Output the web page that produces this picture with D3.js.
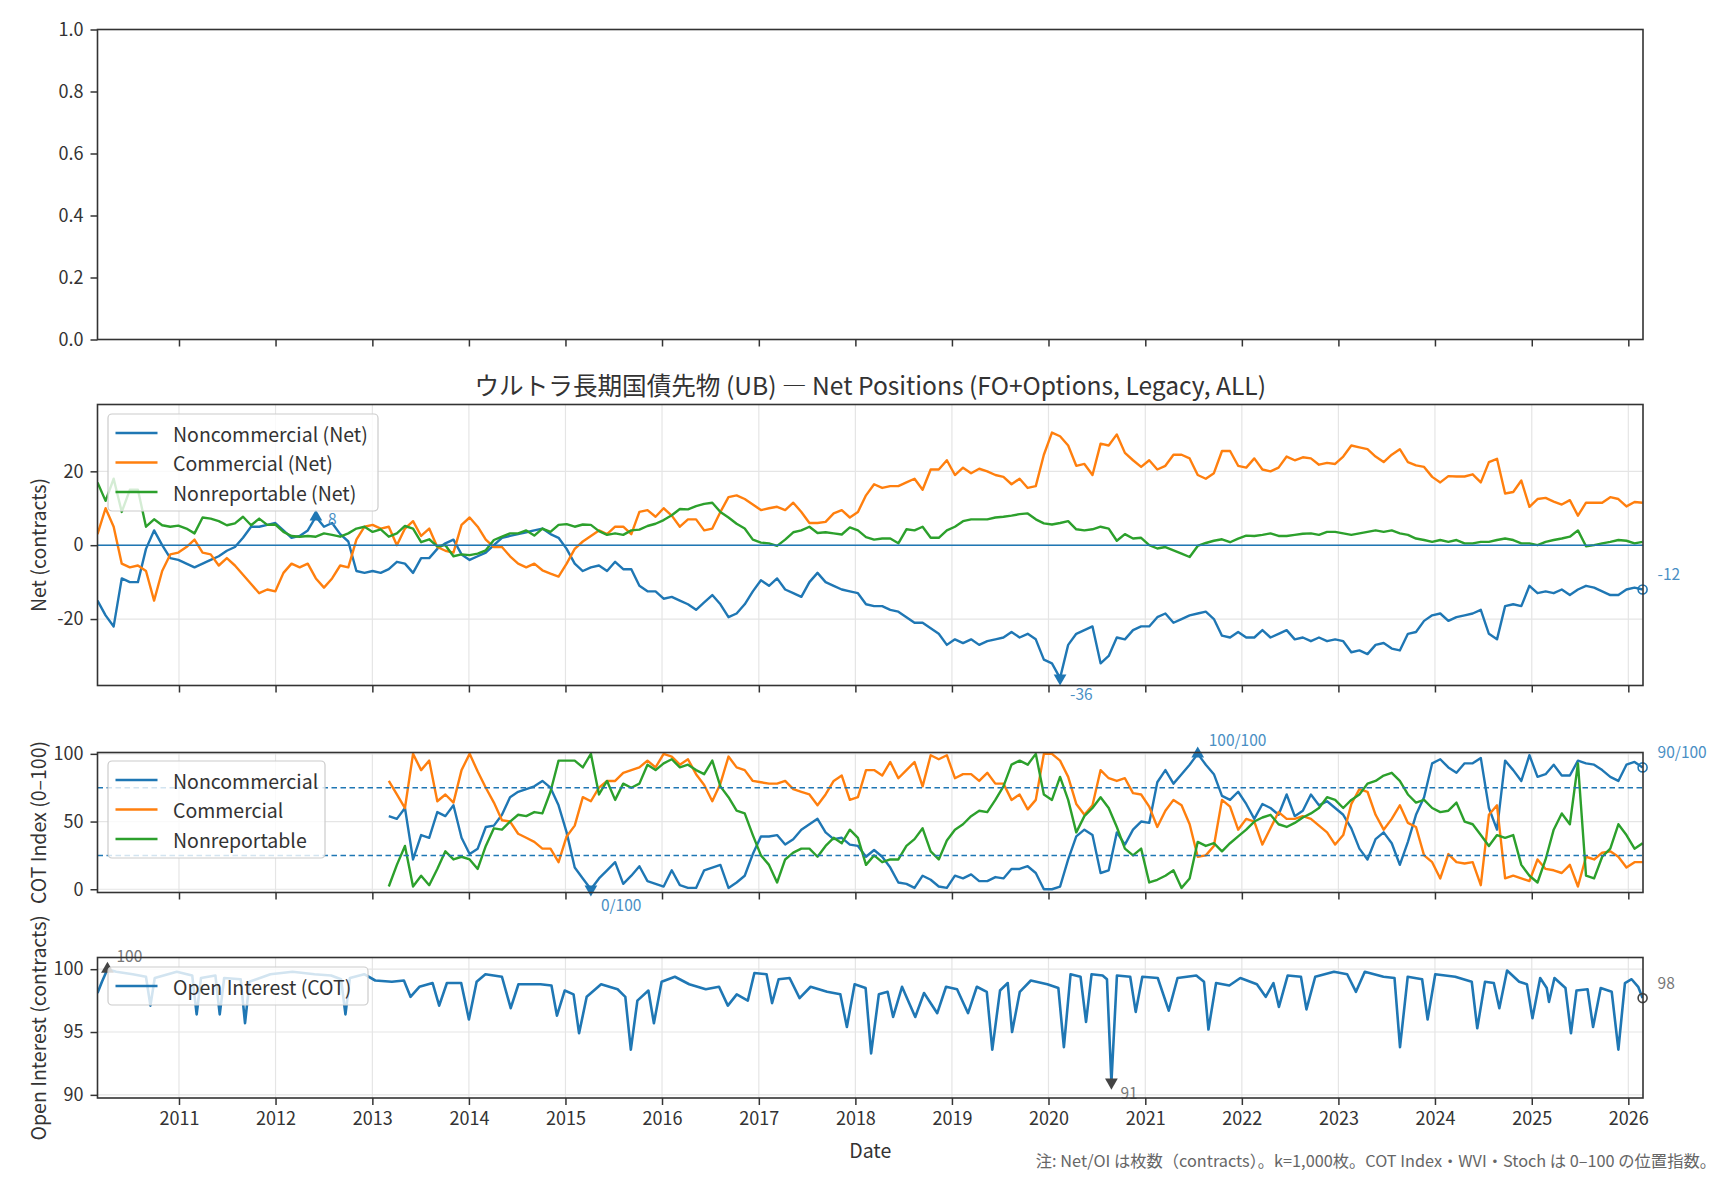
<!DOCTYPE html>
<html lang="ja">
<head>
<meta charset="UTF-8">
<title>UB Net Positions</title>
<script src="https://cdn.jsdelivr.net/npm/d3@7"></script>
<style>
  body { margin: 0; background: #fff; }
  svg text { font-family: "Noto Sans CJK JP", "Noto Sans", sans-serif; fill: #333; }
</style>
</head>
<body>
<svg id="chart" width="1728" height="1180"></svg>
<script>
// monthly grid, Feb 2010 .. Feb 2026 (decimal years)
const netStart = 2010.156, netEnd = 2026.148;
const cotOffset = 36; // COT index starts ~Mar 2013

const netNoncomm = [
  -15, -19, -22, -9, -10, -10, -1, 4, 0, -3.5,
  -4, -5, -6, -5, -4, -3, -1.5, -0.5, 2, 5,
  5, 5.5, 6, 4, 2, 2.5, 4, 7.7, 5, 6,
  3, 1, -7, -7.5, -7, -7.5, -6.5, -4.5, -5, -7.5,
  -3.5, -3.5, -1, 0.5, 1.5, -2.5, -4, -3, -2, 0,
  2, 2.5, 3, 3.5, 4, 4.5, 3, 2, -1, -5,
  -7, -6, -5.5, -7, -4.5, -6.5, -6.5, -11, -12.5, -12.5,
  -14.5, -14, -15, -16, -17.5, -15.5, -13.5, -16, -19.5, -18.5,
  -16, -12.5, -9.5, -11, -9, -12, -13, -14, -10, -7.5,
  -10, -11, -12, -12.5, -13, -16, -16.5, -16.5, -17.5, -18,
  -19.5, -21, -21, -22.5, -24, -27, -25.5, -26.5, -25.5, -27,
  -26, -25.5, -25, -23.5, -25, -24, -25.5, -31, -32, -36,
  -27, -24, -23, -22, -32, -30, -25, -25.5, -23, -22,
  -22, -19.5, -18.5, -21, -20, -19, -18.5, -18, -20, -24.5,
  -25, -23.5, -25, -25, -23, -25, -24, -23, -25.5, -25,
  -26, -25, -26, -25.5, -26, -29, -28.5, -29.5, -27, -26.5,
  -28, -28.5, -24, -23.5, -20.5, -19, -18.5, -20.5, -19.5, -19,
  -18.5, -17.5, -24, -25.5, -16.5, -16, -16.5, -11, -13, -12.5,
  -13, -12, -13.5, -12, -11, -11.5, -12.5, -13.5, -13.5, -12,
  -11.5, -12
];
const netComm = [
  3, 10, 5, -5, -6, -5.5, -7, -15, -7, -2.5,
  -2, -0.5, 1.5, -2, -2.5, -5.5, -3.5, -5.5, -8, -10.5,
  -13, -12, -12.5, -7.5, -5, -6, -5, -9, -11.5, -9,
  -5.5, -6, 1.5, 5, 5.5, 4.5, 5, 0, 4.5, 6.5,
  2.5, 4.5, -0.5, -1.5, -2, 5.5, 7.5, 5, 1.5, -0.5,
  -0.5, -3, -5, -6, -5, -6.8, -7.7, -8.5, -5, -1,
  1, 2.5, 4, 3, 5, 5, 3, 9, 9.5, 7.7,
  10, 8, 5, 7, 7, 4, 4.5, 9, 13, 13.5,
  12.5, 11, 9.5, 10, 10.4, 9.5, 11.5, 9, 6, 6,
  6.3, 8.6, 9.5, 7.5, 9, 13.5, 16.5, 15.5, 16, 16,
  17, 18, 15, 20.5, 20.5, 23, 19, 21, 19.5, 20.7,
  20, 19, 18.5, 16.5, 18, 15.5, 16, 24.5, 30.5, 29.5,
  27, 21.5, 22, 19, 27.5, 27, 30, 25, 23, 21.2,
  23, 20.5, 21.5, 24.5, 24.5, 23.5, 19, 18, 19.5, 25.5,
  25.5, 21.5, 21, 23.5, 20.5, 20, 21, 24, 23, 23.8,
  23.5, 21.8, 22.3, 22, 24, 27, 26.5, 26, 24, 22.5,
  24.5, 26, 22.5, 21.6, 21.2, 18.5, 17, 18.7, 18.6, 18.6,
  19.2, 17, 22.5, 23.4, 14, 14.4, 17.5, 10.4, 12.5, 12.8,
  11.8, 11, 12.2, 8, 11.5, 11.5, 11.5, 13, 12.5, 10.5,
  11.7, 11.5
];
const netNonrep = [
  17, 12, 18, 9, 15, 15, 5, 7, 5.4, 5,
  5.3, 4.5, 3.2, 7.5, 7.2, 6.5, 5.4, 5.9, 7.7, 5.4,
  7.2, 5.5, 5.6, 3.6, 2.5, 2.3, 2.5, 2.3, 3.2, 2.8,
  2.3, 3.2, 4.5, 5, 3.6, 4.3, 2.3, 3.2, 5.2, 4.5,
  0.8, 1.6, -0.3, 0, -3, -2.5, -2.7, -2.3, -1.4, 1.4,
  2.3, 3.2, 3.2, 4, 2.6, 4.5, 3.6, 5.5, 5.7, 5,
  5.6, 5.5, 3.8, 2.8, 3.2, 2.8, 4, 4.2, 5.2, 5.8,
  6.8, 8.1, 9.8, 9.7, 10.6, 11.2, 11.5, 9, 7.5, 5.8,
  4.5, 1.5, 0.7, 0.5, -0.2, 1.5, 3.5, 4, 5, 3.3,
  3.5, 3.2, 2.9, 4.8, 4, 2.2, 1.5, 1.8, 1.8, 0.5,
  4.3, 4, 5, 2, 2, 4, 5, 6.5, 7, 7,
  7, 7.5, 7.7, 8, 8.4, 8.6, 7, 5.9, 5.6, 6,
  6.5, 4.3, 4, 4.3, 5, 4.5, 1.2, 3, 1.8, 2,
  0, -0.9, -0.5, -1.4, -2.3, -3.2, -0.2, 0.6, 1.2, 1.6,
  0.8, 1.8, 2.6, 2.5, 2.8, 3.2, 2.5, 2.5, 2.8, 3.1,
  3.2, 2.8, 3.6, 3.6, 3.2, 2.8, 3.2, 3.6, 4, 3.6,
  4, 3.2, 2.8, 1.8, 1.4, 0.9, 1.4, 0.9, 1.4, 0.5,
  0.5, 0.9, 0.9, 1.4, 1.8, 1.4, 0.5, 0.5, 0, 0.9,
  1.4, 1.8, 2.3, 4, -0.3, 0, 0.5, 0.9, 1.4, 1.2,
  0.5, 0.9
];

const cotNoncomm = [
  54, 52, 60, 22, 40, 38, 57, 54, 62, 38,
  26, 30, 46, 47, 55, 68, 72, 74, 76, 80,
  75, 62, 42, 16, 8, 0, 8, 14, 20, 4,
  10, 17, 6, 4, 2, 14, 3, 1, 1, 14,
  16, 18, 1, 5, 10, 26, 39, 39, 40, 33,
  37, 44, 48, 52, 42, 37, 38, 33, 32, 24,
  29, 24, 16,
  5, 4, 1, 10, 7, 2, 1, 10, 8, 11,
  6, 6, 9, 8, 15, 15, 17, 12, 0, 0,
  2, 22, 39, 44, 40, 12, 14, 42, 33, 44,
  50, 49, 79, 88, 78, 85, 92, 100, 92, 85,
  69, 66, 72, 63, 52, 63, 60, 55, 70, 54,
  58, 70, 62, 65, 60, 55, 45, 30, 22, 37,
  42, 34, 18, 35, 55, 68, 93, 96, 90, 86,
  93, 93, 97, 60, 44, 95, 88, 80, 99, 83,
  85, 92, 84, 84, 95, 93, 92, 88, 83, 80,
  92, 94, 90
];
const cotComm = [
  80, 70, 60, 100, 88, 95, 65, 70, 64, 88,
  100, 87, 75, 64, 51, 50, 41, 38, 35, 30,
  30, 20, 39, 47, 68, 65, 75, 80, 80, 86,
  88, 90, 95, 90, 100, 98, 92, 96, 85, 77,
  65, 78, 98, 90, 88, 80, 79, 78, 78, 80,
  74, 72, 70, 62, 70, 80, 84, 66, 68, 88,
  88, 84, 94,
  82, 88, 94, 76, 99, 96, 99, 82, 85, 85,
  80, 86, 78, 78, 66, 70, 59, 66, 100, 100,
  95, 83, 63, 55, 62, 88, 82, 80, 82, 71,
  70, 61, 46, 58, 66, 62, 48, 24, 25, 32,
  66, 61, 44, 52, 50, 33, 45, 57, 52, 52,
  54, 52, 47, 42, 33, 40, 63, 74, 72, 55,
  44, 52, 62, 49, 46, 25, 20, 8, 26, 20,
  19, 20, 3, 55, 62, 8, 10, 8, 6, 22,
  15, 14, 12, 18, 2, 24, 22, 27, 28, 24,
  16, 20, 20
];
const cotNonrep = [
  2, 18, 32, 2, 10, 3, 15, 28, 22, 24,
  22, 15, 32, 45, 44, 50, 55, 54, 57, 56,
  72, 95, 95, 95, 90, 100, 70, 80, 66, 78,
  75, 78, 92, 88, 93, 96, 90, 92, 88, 85,
  95, 76, 68, 58, 56, 40, 25, 18, 5, 22,
  27, 30, 30, 24, 32, 38, 34, 44, 38, 18,
  25, 20, 22,
  22, 32, 37, 45, 28, 22, 36, 44, 48, 54,
  58, 57, 66, 76, 92, 95, 92, 100, 70, 66,
  83, 66, 42, 54, 60, 68, 60, 46, 30, 25,
  30, 5, 7, 10, 14, 1, 8, 35, 32, 34,
  28, 34, 39, 44, 50, 53, 55, 48, 46, 49,
  53, 56, 60, 68, 66, 60, 66, 70, 78, 80,
  84, 86, 80, 70, 64, 66, 60, 57, 58, 64,
  50, 48, 40, 32, 40, 38, 40, 18, 10, 5,
  22, 44, 56, 48, 93, 10, 8, 24, 30, 48,
  40, 30, 34
];

// open interest (weekly-ish readings incl. roll dips)
const oiYears = [
  2010.156, 2010.202, 2010.259, 2010.350, 2010.521, 2010.658, 2010.704, 2010.749, 2010.977, 2011.137,
  2011.183, 2011.228, 2011.377, 2011.422, 2011.468, 2011.639, 2011.684, 2011.730, 2011.947, 2012.175,
  2012.403, 2012.574, 2012.677, 2012.722, 2012.768, 2012.916, 2013.030, 2013.202, 2013.327, 2013.395,
  2013.487, 2013.624, 2013.692, 2013.772, 2013.920, 2014.000, 2014.080, 2014.171, 2014.342, 2014.433,
  2014.513, 2014.741, 2014.855, 2014.912, 2014.992, 2015.084, 2015.141, 2015.220, 2015.369, 2015.540,
  2015.620, 2015.677, 2015.745, 2015.859, 2015.916, 2015.996, 2016.133, 2016.281, 2016.452, 2016.589,
  2016.680, 2016.772, 2016.886, 2016.954, 2017.080, 2017.137, 2017.205, 2017.319, 2017.422, 2017.536,
  2017.707, 2017.844, 2017.912, 2017.992, 2018.106, 2018.163, 2018.243, 2018.334, 2018.391, 2018.483,
  2018.620, 2018.711, 2018.848, 2018.939, 2019.053, 2019.167, 2019.258, 2019.361, 2019.418, 2019.498,
  2019.578, 2019.623, 2019.703, 2019.817, 2019.988, 2020.102, 2020.159, 2020.228, 2020.331, 2020.388,
  2020.445, 2020.559, 2020.604, 2020.650, 2020.707, 2020.844, 2020.901, 2020.969, 2021.129, 2021.243,
  2021.334, 2021.528, 2021.608, 2021.654, 2021.733, 2021.870, 2021.984, 2022.156, 2022.247, 2022.327,
  2022.384, 2022.475, 2022.612, 2022.669, 2022.760, 2022.954, 2023.091, 2023.182, 2023.273, 2023.467,
  2023.581, 2023.638, 2023.718, 2023.867, 2023.924, 2024.003, 2024.209, 2024.380, 2024.437, 2024.517,
  2024.608, 2024.665, 2024.745, 2024.870, 2024.950, 2025.007, 2025.087, 2025.155, 2025.178, 2025.235,
  2025.349, 2025.406, 2025.463, 2025.578, 2025.635, 2025.714, 2025.828, 2025.897, 2025.965, 2026.034,
  2026.102, 2026.148
];
const oiValues = [
  98.1, 99.0, 100.0, 99.8, 99.6, 99.4, 97.1, 99.3, 99.8, 99.5,
  96.4, 99.3, 99.5, 96.4, 99.3, 99.2, 95.7, 99.0, 99.6, 99.8,
  99.6, 99.5, 99.2, 96.4, 99.3, 99.6, 99.1, 99.0, 99.1, 97.8,
  98.6, 98.9, 97.1, 98.9, 98.9, 96.0, 99.0, 99.6, 99.4, 96.9,
  98.8, 98.8, 98.7, 96.3, 98.3, 98.0, 94.9, 97.8, 98.8, 98.4,
  97.8, 93.6, 97.5, 98.3, 95.7, 99.0, 99.4, 98.8, 98.4, 98.6,
  97.1, 98.0, 97.5, 99.7, 99.6, 97.3, 99.2, 99.3, 97.7, 98.6,
  98.2, 98.0, 95.4, 98.8, 98.5, 93.3, 98.0, 98.2, 96.2, 98.6,
  96.2, 98.1, 96.5, 98.6, 98.4, 96.5, 98.6, 98.2, 93.6, 98.3,
  98.9, 95.0, 98.2, 99.1, 98.8, 98.5, 93.8, 99.6, 99.4, 95.8,
  99.6, 99.5, 99.2, 91.0, 99.5, 99.4, 96.6, 99.4, 99.3, 96.7,
  99.3, 99.5, 99.0, 95.2, 98.9, 98.7, 99.3, 98.8, 97.8, 98.9,
  97.0, 99.5, 99.4, 96.8, 99.4, 99.8, 99.6, 98.2, 99.8, 99.4,
  99.3, 93.8, 99.4, 99.2, 96.0, 99.6, 99.4, 99.0, 95.3, 99.0,
  98.9, 96.9, 99.9, 99.0, 98.8, 96.1, 99.3, 98.5, 97.4, 99.3,
  98.5, 94.9, 98.3, 98.4, 95.4, 98.5, 98.2, 93.6, 98.9, 99.2,
  98.6, 97.7
];

const yearTicks = d3.range(2011, 2027);
const blue = "#1f77b4", orange = "#ff7f0e", green = "#2ca02c";

function yearToDate(y) {
  const yr = Math.floor(y);
  const a = new Date(yr, 0, 1), b = new Date(yr + 1, 0, 1);
  return new Date(+a + (y - yr) * (b - a));
}

const netDates = netNoncomm.map((_, i) => yearToDate(netStart + i * (netEnd - netStart) / (netNoncomm.length - 1)));
const cotDates = netDates.slice(cotOffset);
const oiDates = oiYears.map(yearToDate);

const svg = d3.select("#chart");
const L = 97.5, R = 1643;
const x = d3.scaleTime().domain([yearToDate(2010.156), yearToDate(2026.152)]).range([L, R]);

const panels = [
  {top: 29.5, bottom: 339.5, domain: [0, 1], ticks: [0, 0.2, 0.4, 0.6, 0.8, 1.0], fmt: d3.format(".1f"), grid: false},
  {top: 404.5, bottom: 685.5, domain: [-38, 38.1], ticks: [-20, 0, 20], fmt: d => String(d), grid: true},
  {top: 752.5, bottom: 892.5, domain: [-2.4, 101], ticks: [0, 50, 100], fmt: d => String(d), grid: true},
  {top: 957.5, bottom: 1098, domain: [89.75, 100.93], ticks: [90, 95, 100], fmt: d => String(d), grid: true}
];
panels.forEach(p => p.y = d3.scaleLinear().domain(p.domain).range([p.bottom, p.top]));

const defs = svg.append("defs");
panels.forEach((p, k) => {
  defs.append("clipPath").attr("id", "clip" + k)
    .append("rect").attr("x", L).attr("y", p.top).attr("width", R - L).attr("height", p.bottom - p.top);
});

function drawGrid(p) {
  const g = svg.append("g");
  g.selectAll(".vx").data(yearTicks).join("line")
    .attr("x1", d => x(new Date(d, 0, 1))).attr("x2", d => x(new Date(d, 0, 1)))
    .attr("y1", p.top).attr("y2", p.bottom)
    .attr("stroke", "#e5e5e5").attr("stroke-width", 1.2);
  g.selectAll(".hy").data(p.ticks).join("line")
    .attr("x1", L).attr("x2", R)
    .attr("y1", d => p.y(d)).attr("y2", d => p.y(d))
    .attr("stroke", "#e5e5e5").attr("stroke-width", 1.2);
}

function drawLine(k, dates, values, color, w) {
  const p = panels[k];
  const line = d3.line().x((d, i) => x(dates[i])).y(d => p.y(d));
  svg.append("path").attr("clip-path", `url(#clip${k})`)
    .attr("d", line(values)).attr("fill", "none")
    .attr("stroke", color).attr("stroke-width", w || 2.4).attr("stroke-linejoin", "round");
}

function marker(px, py, type, color) {
  if (type === "o") {
    svg.append("circle").attr("cx", px).attr("cy", py).attr("r", 4.5)
      .attr("fill", "none").attr("stroke", color).attr("stroke-width", 1.6);
  } else {
    svg.append("path").attr("d", d3.symbol(d3.symbolTriangle, 70)())
      .attr("transform", `translate(${px},${py}) rotate(${type === "v" ? 180 : 0})`)
      .attr("fill", color);
  }
}

// offsets: [max, min, last] label positions relative to the marker
function annotate(k, dates, values, fmt, mColor, tColor, offs) {
  const p = panels[k];
  const o = offs || [[11, -15], [10, 15], [15, -16]];
  const iMax = d3.maxIndex(values), iMin = d3.minIndex(values), iLast = values.length - 1;
  const pts = [
    {i: iMax, t: "^", d: o[0]},
    {i: iMin, t: "v", d: o[1]},
    {i: iLast, t: "o", d: o[2]}
  ];
  pts.forEach(q => {
    const px = x(dates[q.i]), py = p.y(values[q.i]);
    marker(px, py, q.t, mColor);
    svg.append("text").attr("x", px + q.d[0]).attr("y", py + q.d[1])
      .attr("dominant-baseline", "central").attr("font-size", 15.5)
      .style("fill", tColor).text(fmt(values[q.i]));
  });
}

function legend(top, items, w) {
  const g = svg.append("g");
  const h = items.length === 1 ? 38 : items.length * 29 + 10;
  g.append("rect").attr("x", 108).attr("y", top).attr("width", w).attr("height", h).attr("rx", 4)
    .attr("fill", "#fff").attr("fill-opacity", 0.8).attr("stroke", "#cccccc").attr("stroke-width", 1.2);
  items.forEach((it, j) => {
    const cy = top + 19 + j * 29.5;
    g.append("line").attr("x1", 115.5).attr("x2", 157.5).attr("y1", cy).attr("y2", cy)
      .attr("stroke", it.color).attr("stroke-width", 2.4);
    g.append("text").attr("x", 173).attr("y", cy).attr("dominant-baseline", "central")
      .attr("font-size", 19.5).text(it.label);
  });
}

function frame(p, showX) {
  const ay = svg.append("g").attr("transform", `translate(${L},0)`)
    .call(d3.axisLeft(p.y).tickValues(p.ticks).tickFormat(p.fmt).tickSize(7).tickPadding(7));
  const ax = svg.append("g").attr("transform", `translate(0,${p.bottom})`)
    .call(d3.axisBottom(x).tickValues(yearTicks.map(d => new Date(d, 0, 1)))
      .tickFormat(showX ? d3.timeFormat("%Y") : "").tickSize(7).tickPadding(7));
  [ay, ax].forEach(a => {
    a.select(".domain").remove();
    a.selectAll(".tick line").attr("stroke", "#333").attr("stroke-width", 1.5);
    a.selectAll(".tick text").attr("font-size", 18).style("font-family", '"Noto Sans CJK JP", sans-serif').attr("fill", "#333");
  });
  svg.append("rect").attr("x", L).attr("y", p.top).attr("width", R - L).attr("height", p.bottom - p.top)
    .attr("fill", "none").attr("stroke", "#333").attr("stroke-width", 1.6);
}

// panel 0: empty
frame(panels[0], false);

// panel 1: net positions
drawGrid(panels[1]);
drawLine(1, netDates, netNoncomm, blue);
drawLine(1, netDates, netComm, orange);
drawLine(1, netDates, netNonrep, green);
svg.append("line").attr("x1", L).attr("x2", R)
  .attr("y1", panels[1].y(0)).attr("y2", panels[1].y(0))
  .attr("stroke", blue).attr("stroke-width", 1.6);
annotate(1, netDates, netNoncomm, v => String(Math.round(v)), blue, "#4a8fc4",
  [[12, 1], [10, 15], [15, -16]]);
legend(414, [
  {label: "Noncommercial (Net)", color: blue},
  {label: "Commercial (Net)", color: orange},
  {label: "Nonreportable (Net)", color: green}
], 270);
frame(panels[1], false);
svg.append("text").attr("x", (L + R) / 2).attr("y", 384).attr("text-anchor", "middle")
  .attr("dominant-baseline", "central").attr("font-size", 24.6)
  .text("ウルトラ長期国債先物 (UB) — Net Positions (FO+Options, Legacy, ALL)");

// panel 2: COT index
drawGrid(panels[2]);
drawLine(2, cotDates, cotNoncomm, blue);
drawLine(2, cotDates, cotComm, orange);
drawLine(2, cotDates, cotNonrep, green);
[25, 75].forEach(v => {
  svg.append("line").attr("x1", L).attr("x2", R)
    .attr("y1", panels[2].y(v)).attr("y2", panels[2].y(v))
    .attr("stroke", blue).attr("stroke-width", 1.5).attr("stroke-dasharray", "5.5,3.5");
});
annotate(2, cotDates, cotNoncomm, v => Math.round(v) + "/100", blue, "#4a8fc4");
legend(761, [
  {label: "Noncommercial", color: blue},
  {label: "Commercial", color: orange},
  {label: "Nonreportable", color: green}
], 217);
frame(panels[2], false);

// panel 3: open interest
drawGrid(panels[3]);
drawLine(3, oiDates, oiValues, blue, 2.6);
annotate(3, oiDates, oiValues, v => String(Math.round(v)), "#444", "#777",
  [[9, -14], [9, 10], [15, -16]]);
legend(967, [{label: "Open Interest (COT)", color: blue}], 260);
frame(panels[3], true);

// axis labels
function ylab(text, cy) {
  svg.append("text").attr("transform", `translate(37,${cy}) rotate(-90)`)
    .attr("text-anchor", "middle").attr("dominant-baseline", "central")
    .attr("font-size", 19.5).text(text);
}
ylab("Net (contracts)", (panels[1].top + panels[1].bottom) / 2);
ylab("COT Index (0–100)", (panels[2].top + panels[2].bottom) / 2);
ylab("Open Interest (contracts)", (panels[3].top + panels[3].bottom) / 2);
svg.append("text").attr("x", (L + R) / 2).attr("y", 1149).attr("text-anchor", "middle")
  .attr("dominant-baseline", "central").attr("font-size", 19.5).text("Date");
svg.append("text").attr("x", 1716).attr("y", 1160).attr("text-anchor", "end")
  .attr("dominant-baseline", "central").attr("font-size", 16.3).style("fill", "#666")
  .text("注: Net/OI は枚数（contracts）。k=1,000枚。COT Index・WVI・Stoch は 0–100 の位置指数。");
</script>
</body>
</html>
